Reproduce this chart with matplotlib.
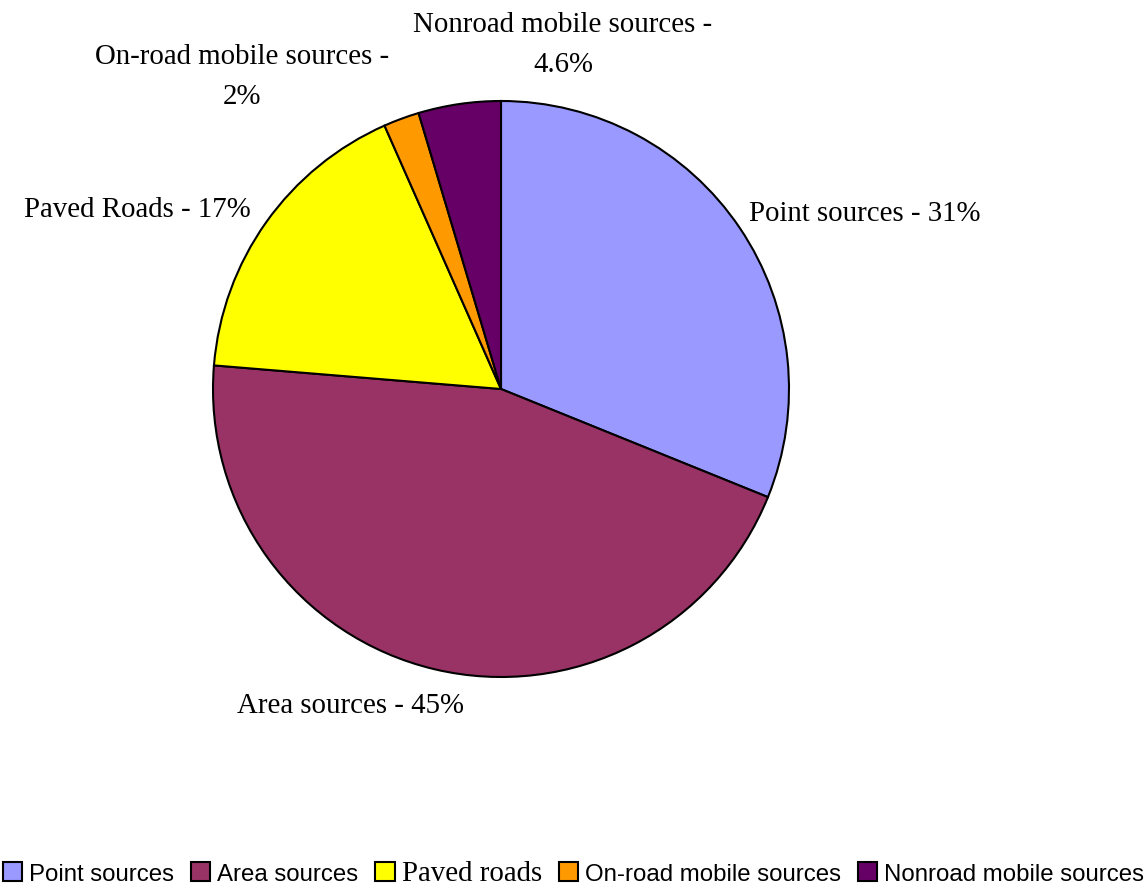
import matplotlib.pyplot as plt
from matplotlib.patches import Patch

categories = ['Point sources', 'Area sources', 'Paved roads', 'On-road mobile sources', 'Nonroad mobile sources']
values = [31, 45, 17, 2, 4.6]
slice_labels = ['Point sources - 31%', 'Area sources - 45%', 'Paved Roads - 17%',
                'On-road mobile sources -\n2%', 'Nonroad mobile sources -\n4.6%']
colors = ['#9999FF', '#993366', '#FFFF00', '#FF9900', '#660066']

W, H = 1147, 887
fig = plt.figure(figsize=(W / 100, H / 100), dpi=100)
cx, cy, r = 501, 390, 288
ax = fig.add_axes([(cx - r) / W, (H - cy - r) / H, 2 * r / W, 2 * r / H])
ax.pie(values, colors=colors, startangle=90, counterclock=False, radius=1,
       wedgeprops=dict(edgecolor='black', linewidth=1.5))
ax.set_xlim(-1, 1)
ax.set_ylim(-1, 1)
ax.set_aspect('equal')
ax.axis('off')

# label positions (data units, pie radius = 1)
label_pos = [(1.264, 0.612), (-0.521, -1.097), (-1.264, 0.625), (-0.899, 1.088), (0.215, 1.197)]
for txt, (x, y) in zip(slice_labels, label_pos):
    ax.text(x, y, txt, ha='center', va='center', fontsize=20.8, family='Liberation Serif',
            linespacing=1.7, clip_on=False)

handles = [Patch(facecolor=c, edgecolor='black', linewidth=1.5) for c in colors]
leg = fig.legend(handles, categories, loc='center', bbox_to_anchor=(0.5, 1 - 874 / H),
                 ncol=5, frameon=False, handlelength=0.8, handleheight=0.8,
                 handletextpad=0.3, columnspacing=0.7, borderaxespad=0,
                 prop={'family': 'Liberation Sans', 'size': 17.3})
leg.get_texts()[2].set_family('Liberation Serif')
leg.get_texts()[2].set_fontsize(20.8)

fig.savefig('out.png', dpi=100)
